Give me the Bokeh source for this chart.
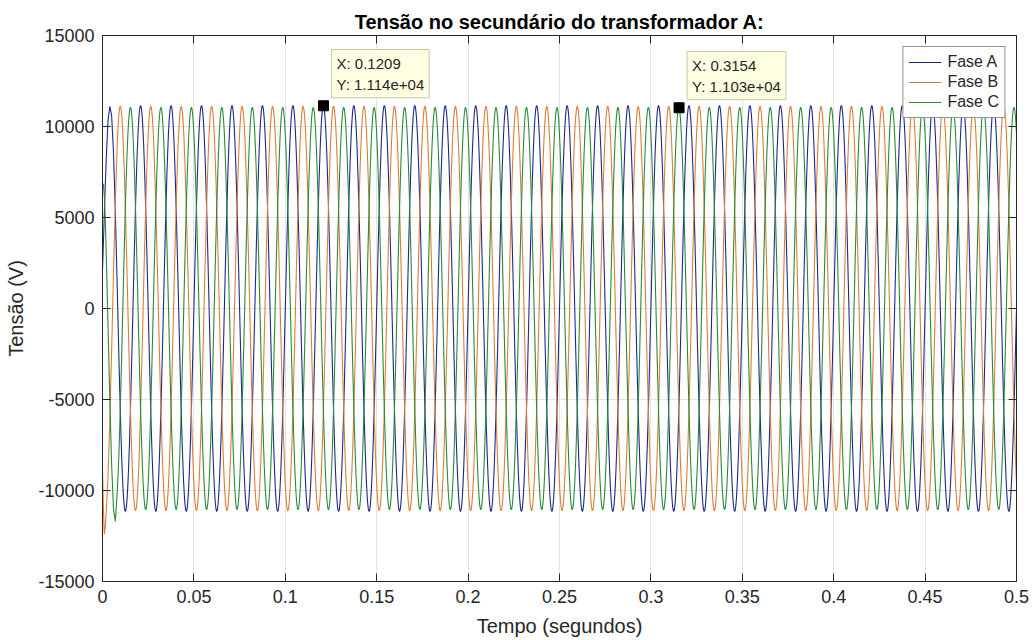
import numpy as np
from bokeh.plotting import figure
from bokeh.models import LinearAxis, FixedTicker, Label
from bokeh.embed import file_html
from bokeh.resources import INLINE

# --- three-phase secondary voltage (60 Hz steady state) ---
freq_hz = 60.0
t_end = 0.5
sample_step = 1e-4
phase_names = ["Fase A", "Fase B", "Fase C"]
phase_colors = ["#1e2888", "#dc7d35", "#278a38"]
peak_volts = [11143.0, 11100.0, 11042.0]
phase_deg = [0.0, -120.0, 120.0]

# energisation transient during the first 8 ms (V)
start_times = [0.0, 0.0005, 0.001, 0.0015, 0.002, 0.003, 0.004, 0.005, 0.006, 0.007, 0.008]
start_a = [2100, 3600, 5200, 6700, 8100, 10300, 11100, 10600, 8600, 5400, 1400]
start_b = [-8800, -11000, -12400, -12000, -11200, -9300, -6200, -2300, 1850, 5750, 8850]
start_c = [6900, 6800, 6200, 5000, 3200, -900, -5000, -8600, -11000, -11700, -10200]

# data cursors
tip_x = [0.1209, 0.3154]
tip_y = [11140, 11030]
tip_text = ["X: 0.1209\nY: 1.114e+04", "X: 0.3154\nY: 1.103e+04"]

x_ticks = [0, 0.05, 0.1, 0.15, 0.2, 0.25, 0.3, 0.35, 0.4, 0.45, 0.5]
x_tick_labels = ["0", "0.05", "0.1", "0.15", "0.2", "0.25", "0.3", "0.35", "0.4", "0.45", "0.5"]
y_ticks = [-15000, -10000, -5000, 0, 5000, 10000, 15000]
y_tick_labels = ["-15000", "-10000", "-5000", "0", "5000", "10000", "15000"]

FONT = "Liberation Sans"
AX = "#262626"

t_steady = np.round(np.arange(0.0085, t_end + sample_step / 2, sample_step), 5)
start_series = [start_a, start_b, start_c]

p = figure(width=1035, height=640, output_backend="svg", toolbar_location=None,
           x_range=(0, 0.5), y_range=(-15000, 15000),
           min_border_left=102, min_border_right=19, min_border_top=35, min_border_bottom=59,
           background_fill_color="white", border_fill_color="white")
p.outline_line_color = AX
p.outline_line_width = 1

for name, color, vpk, ph, v0 in zip(phase_names, phase_colors, peak_volts, phase_deg, start_series):
    v_steady = vpk * np.sin(2 * np.pi * freq_hz * t_steady + np.deg2rad(ph))
    t = np.concatenate([np.array(start_times), t_steady])
    v = np.concatenate([np.array(v0, dtype=float), v_steady])
    p.line(t, v, line_color=color, line_width=1.1, legend_label=name)

# data cursor markers and boxes
p.scatter(tip_x, tip_y, marker="square", size=10, fill_color="black", line_color="black")
for tx, ty, txt in zip(tip_x, tip_y, tip_text):
    p.add_layout(Label(x=tx, y=ty, x_offset=8, y_offset=8, text=txt,
                       text_font=FONT, text_font_size="15px", text_color=AX,
                       text_align="left", text_baseline="bottom", text_line_height=1.25,
                       background_fill_color="#ffffe1", background_fill_alpha=1.0,
                       border_line_color="#c9c9a8", border_line_width=1, padding=5))

# axes
for ax in (p.xaxis[0], p.yaxis[0]):
    ax.major_label_text_font = FONT
    ax.major_label_text_font_size = "18px"
    ax.major_label_text_color = AX
    ax.axis_label_text_font = FONT
    ax.axis_label_text_font_size = "20px"
    ax.axis_label_text_font_style = "normal"
    ax.axis_label_text_color = AX
    ax.major_tick_in = 8
    ax.major_tick_out = 0
    ax.major_tick_line_color = AX
    ax.minor_tick_line_color = None
    ax.axis_line_color = AX
    ax.major_label_standoff = 8

p.xaxis.ticker = FixedTicker(ticks=x_ticks)
p.xaxis.major_label_overrides = dict(zip(x_ticks, x_tick_labels))
p.xaxis.axis_label = "Tempo (segundos)"
p.xaxis.axis_label_standoff = 9
p.yaxis.ticker = FixedTicker(ticks=y_ticks)
p.yaxis.major_label_overrides = dict(zip(y_ticks, y_tick_labels))
p.yaxis.axis_label = "Tensão (V)"
p.yaxis.axis_label_standoff = 8

# tick marks on the top and right edges of the box
for loc, ticks in (("above", x_ticks), ("right", y_ticks)):
    edge = LinearAxis(ticker=FixedTicker(ticks=ticks), major_label_text_color=None,
                      major_label_text_font_size="1px", major_tick_in=8, major_tick_out=0,
                      major_label_standoff=0, minor_tick_line_color=None,
                      axis_line_color=AX, major_tick_line_color=AX)
    p.add_layout(edge, loc)

p.xgrid.ticker = FixedTicker(ticks=x_ticks)
p.ygrid.ticker = FixedTicker(ticks=y_ticks)
p.grid.grid_line_color = "#e3e3e3"
p.grid.grid_line_width = 1

p.title.text = "Tensão no secundário do transformador A:"
p.title.align = "center"
p.title.text_font = FONT
p.title.text_font_size = "20px"
p.title.text_font_style = "bold"
p.title.text_color = "black"
p.title.standoff = 5

lg = p.legend[0]
lg.location = "top_right"
lg.margin = 11
lg.padding = 5
lg.spacing = 0
lg.glyph_width = 33
lg.glyph_height = 20
lg.label_height = 20
lg.label_standoff = 6
lg.label_text_font = FONT
lg.label_text_font_size = "16px"
lg.label_text_color = AX
lg.border_line_color = AX
lg.border_line_width = 1
lg.background_fill_color = "white"
lg.background_fill_alpha = 1.0

open("out.html", "w").write(file_html(p, INLINE))
